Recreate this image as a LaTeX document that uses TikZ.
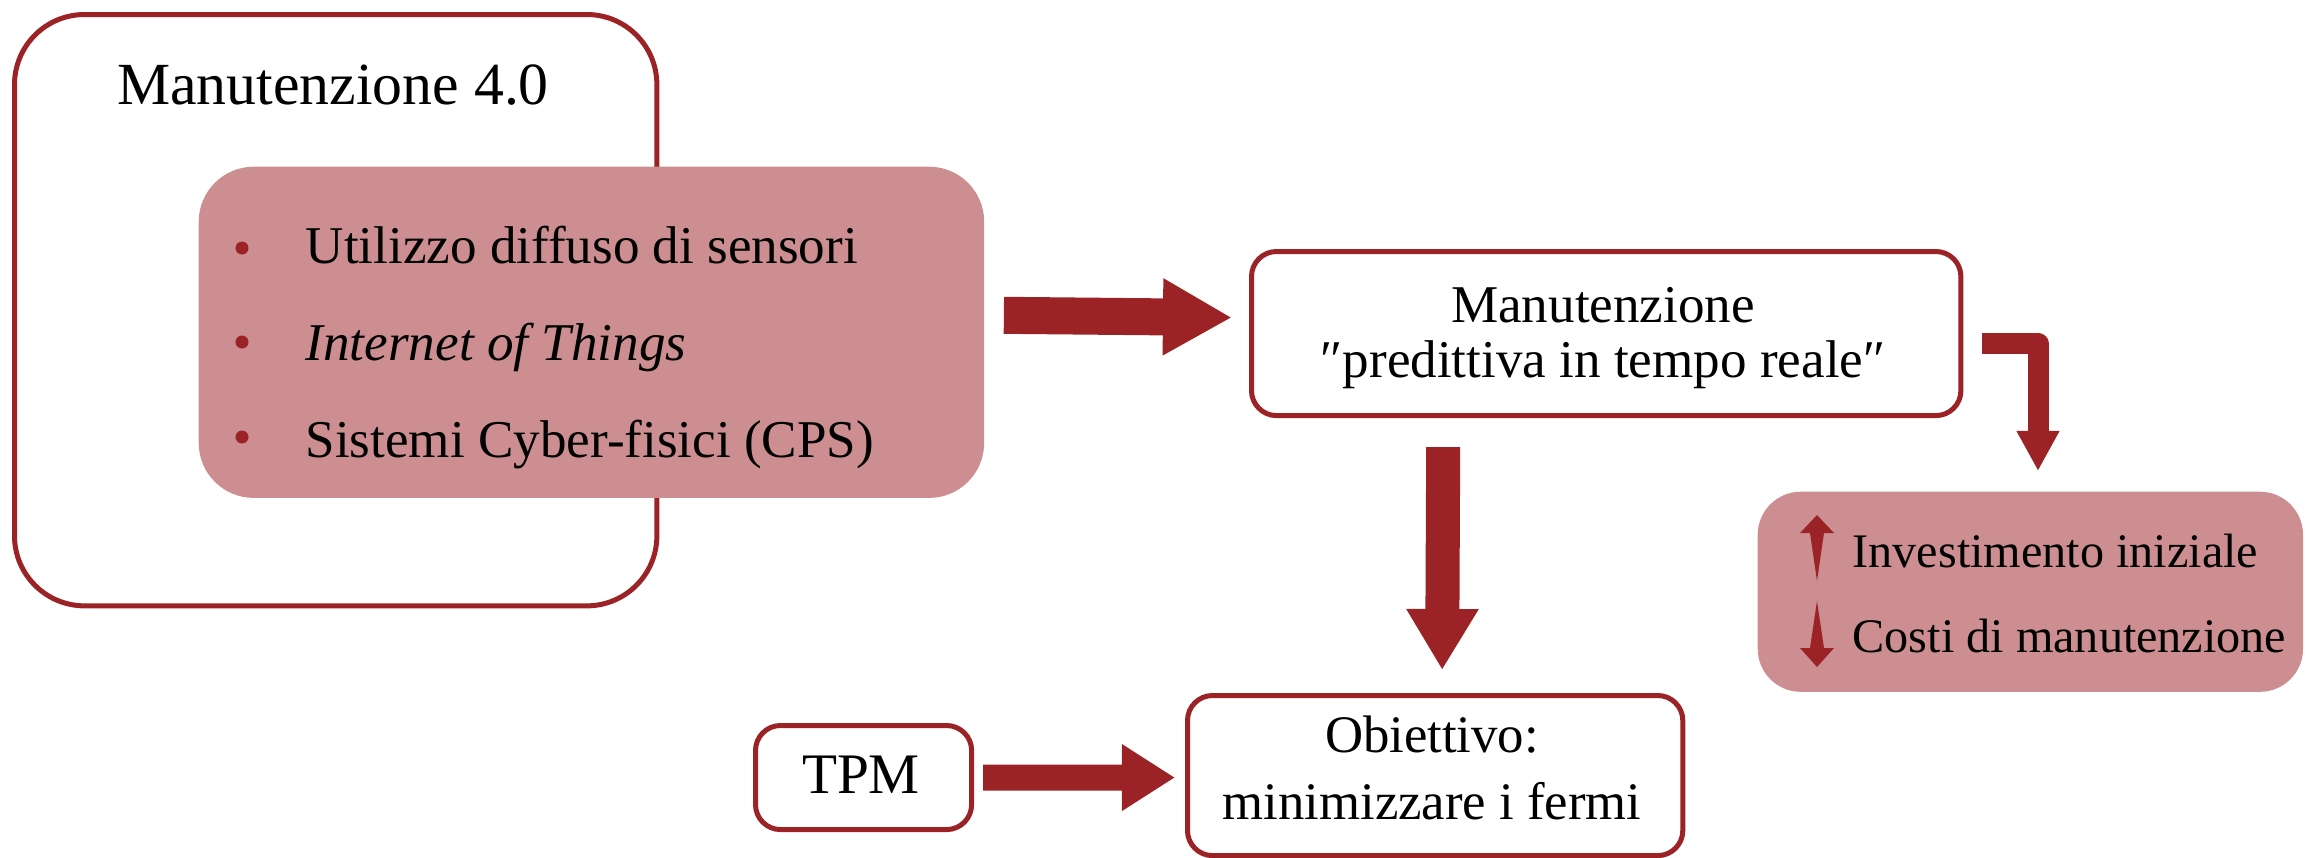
\documentclass[tikz,border=0pt]{standalone}
\usepackage{fontspec}
\setmainfont{Liberation Serif}
\usetikzlibrary{arrows.meta,calc}
\definecolor{dred}{RGB}{155,35,38}
\definecolor{pinkf}{RGB}{204,142,144}
\tikzset{
  outline/.style={draw=dred, line width=0.05cm, fill=white, rectangle, inner sep=0pt, anchor=north west},
  pinkbox/.style={fill=pinkf, rectangle, inner sep=0pt, anchor=north west},
  blockarrow/.style={draw=dred, line cap=butt},
  bul/.style={circle, fill=dred, inner sep=0pt, minimum size=0.13cm},
  listtxt/.style={anchor=base west, inner sep=0pt, font=\fontsize{15.1}{18}\selectfont},
  smalltxt/.style={anchor=base west, inner sep=0pt, font=\fontsize{13.7}{16}\selectfont},
}
\begin{document}
\begin{tikzpicture}[x=0.01cm, y=-0.01cm]
\useasboundingbox (0,0) rectangle (2305,857);
% outer box
\node[outline, rounded corners=0.7cm, minimum width=6.42cm, minimum height=5.91cm] (m40) at (12,12) {};
\node[inner sep=0pt, font=\fontsize{17}{20}\selectfont] (title) at (333,85) {Manutenzione 4.0};
% inner pink box
\node[pinkbox, rounded corners=0.55cm, minimum width=7.85cm, minimum height=3.31cm] (inner) at (198,166) {};
\node[bul] (b1) at (242,248) {};
\node[bul] (b2) at (242,342) {};
\node[bul] (b3) at (242,437) {};
\node[listtxt] (t1) at (305,263) {Utilizzo diffuso di sensori};
\node[listtxt] (t2) at (305,360) {\textit{Internet of Things}};
\node[listtxt] (t3) at (305,457) {Sistemi Cyber-fisici (CPS)};
% predictive box
\node[outline, rounded corners=0.25cm, minimum width=7.09cm, minimum height=1.64cm] (pred) at (1249,249) {};
\node[inner sep=0pt, align=center, font=\fontsize{15.1}{15.5}\selectfont] (predt) at (1603,338) {Manutenzione\\″predittiva in tempo reale″};
% objective box
\node[outline, rounded corners=0.25cm, minimum width=4.95cm, minimum height=1.60cm] (obj) at (1185,693) {};
\node[inner sep=0pt, align=center, font=\fontsize{15}{19}\selectfont] (objt) at (1432,768) {Obiettivo:\\minimizzare i fermi};
% TPM box
\node[outline, rounded corners=0.25cm, minimum width=2.16cm, minimum height=1.04cm] (tpm) at (753,723) {};
\node[inner sep=0pt, font=\fontsize{16.3}{18}\selectfont] (tpmt) at (861,775) {TPM};
% right box
\node[pinkbox, rounded corners=0.43cm, minimum width=5.45cm, minimum height=2.0cm] (costs) at (1757,491) {};
\node[smalltxt] (c1) at (1852,567) {Investimento iniziale};
\node[smalltxt] (c2) at (1852,652) {Costi di manutenzione};
\fill[dred] (1817,515) -- (1834,533) -- (1824,533) -- (1817,581) -- (1810,533) -- (1800,533) -- cycle;
\fill[dred] (1817,601) -- (1824,648) -- (1834,648) -- (1817,667) -- (1800,648) -- (1810,648) -- cycle;
% connectors
\coordinate (a1s) at ($(inner.east)+(19,-17)$);
\coordinate (a1e) at ($(pred.west)+(-17,-16)$);
\draw[blockarrow, line width=0.37cm, -{Triangle[length=0.69cm,width=0.72cm]}] (a1s) -- (a1e);
\coordinate (a2s) at ($(pred.south)+(-163,29)$);
\coordinate (a2e) at ($(obj.north)+(7,-23)$);
\draw[blockarrow, line width=0.34cm, -{Triangle[length=0.61cm,width=0.68cm]}] (a2s) -- (a2e);
\coordinate (a3s) at ($(tpm.east)+(9,0)$);
\coordinate (a3e) at ($(obj.west)+(-10,2)$);
\draw[blockarrow, line width=0.26cm, -{Triangle[length=0.53cm,width=0.63cm]}] (a3s) -- (a3e);
\coordinate (a4s) at ($(pred.east)+(19,10)$);
\coordinate (a4e) at ($(costs.north west)+(281,-20)$);
\draw[blockarrow, line width=0.21cm, line join=round, -{Triangle[length=0.40cm,width=0.40cm]}] (a4s) -| (a4e);
\end{tikzpicture}
\end{document}
